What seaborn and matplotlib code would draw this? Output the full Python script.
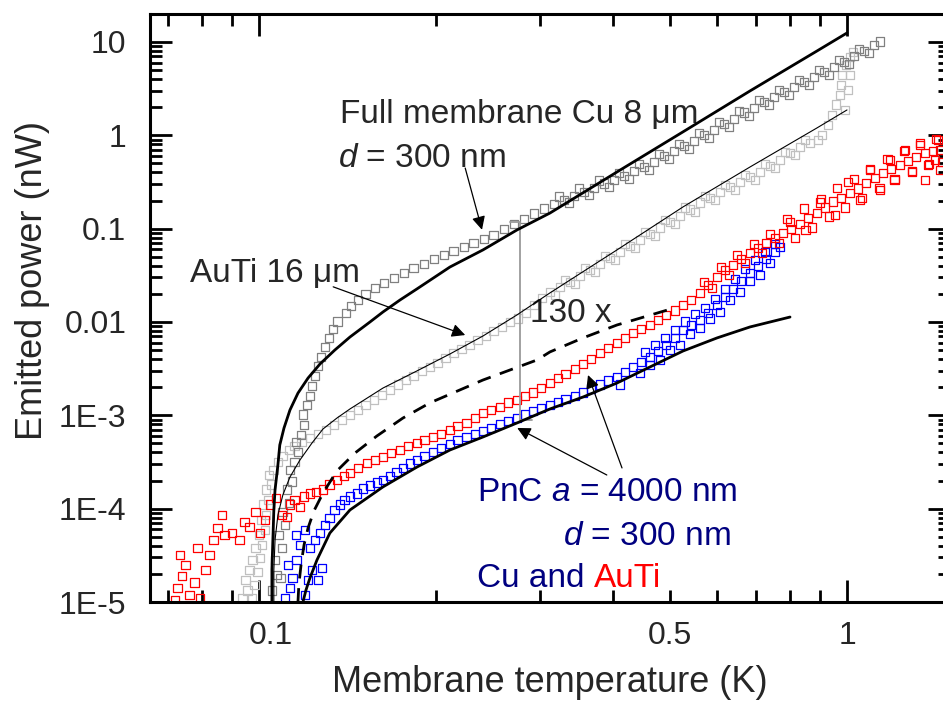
"""Emitted power versus membrane temperature for full membranes and PnC membranes."""

import matplotlib

matplotlib.use("Agg")

import matplotlib.pyplot as plt
import matplotlib.transforms as mtransforms
import seaborn as sns

cu_full = [
    (0.1052, 1.34e-5), (0.1073, 1.95e-5), (0.1089, 1.81e-5), (0.1065, 2.82e-5), (0.1094, 3.79e-5),
    (0.1081, 5.23e-5), (0.1107, 6.69e-5), (0.1098, 9.21e-5), (0.1125, 1.15e-4), (0.1116, 1.59e-4),
    (0.1138, 1.94e-4), (0.1129, 2.60e-4), (0.1151, 3.17e-4), (0.1165, 4.04e-4), (0.1156, 5.18e-4),
    (0.1179, 6.15e-4), (0.1193, 7.88e-4), (0.1188, 1.03e-3), (0.1207, 1.29e-3), (0.1221, 1.61e-3),
    (0.1231, 2.06e-3), (0.1245, 2.64e-3), (0.1260, 3.38e-3), (0.1275, 4.22e-3), (0.1295, 5.40e-3),
    (0.1315, 6.73e-3), (0.1336, 8.41e-3), (0.1362, 1.02e-2), (0.1406, 1.25e-2), (0.1434, 1.48e-2),
    (0.1474, 1.72e-2), (0.1520, 1.99e-2), (0.1575, 2.31e-2), (0.1632, 2.62e-2), (0.1697, 2.96e-2),
    (0.1764, 3.35e-2), (0.1834, 3.79e-2), (0.1908, 4.19e-2), (0.1984, 4.74e-2), (0.2063, 5.23e-2),
    (0.2145, 5.77e-2), (0.2231, 6.36e-2), (0.2320, 7.03e-2), (0.2413, 7.75e-2), (0.2509, 8.55e-2),
    (0.2610, 9.92e-2), (0.2714, 0.112), (0.2823, 0.127), (0.2936, 0.144), (0.3053, 0.163),
    (0.3175, 0.184), (0.3301, 0.203), (0.3433, 0.224), (0.3570, 0.247), (0.3712, 0.273),
    (0.3860, 0.302), (0.4014, 0.332), (0.4175, 0.366), (0.4342, 0.415), (0.4515, 0.458),
    (0.4695, 0.518), (0.4883, 0.600), (0.5078, 0.679), (0.5281, 0.769), (0.5492, 0.870),
    (0.5711, 1.01), (0.5940, 1.14), (0.6177, 1.32), (0.6424, 1.50), (0.6680, 1.74),
    (0.6947, 1.96), (0.7225, 2.28), (0.7513, 2.57), (0.7813, 2.91), (0.8125, 3.30),
    (0.8450, 3.73), (0.8788, 4.22), (0.9139, 4.78), (0.9504, 5.40), (0.9883, 6.10),
    (1.028, 7.08), (1.069, 8.01), (1.111, 9.28), (1.138, 10.2),
    # upper and lower edge of the dense band
    (0.3237, 0.219), (0.3367, 0.189), (0.3501, 0.267), (0.3641, 0.230), (0.3786, 0.325),
    (0.3938, 0.280), (0.4095, 0.395), (0.4259, 0.340), (0.4429, 0.493), (0.4606, 0.425),
    (0.4789, 0.631), (0.4981, 0.558), (0.5180, 0.808), (0.5386, 0.714), (0.5601, 1.06),
    (0.5825, 0.936), (0.6057, 1.39), (0.6299, 1.23), (0.6551, 1.82), (0.6813, 1.61),
    (0.7085, 2.39), (0.7368, 2.12), (0.7663, 3.06), (0.7969, 2.70), (0.8288, 3.92),
    (0.8618, 3.46), (0.8962, 5.01), (0.9320, 4.43), (0.9692, 6.41), (1.008, 5.81),
    (1.048, 8.41), (1.090, 7.62),
]

auti_full = [
    (0.0939, 1.10e-5), (0.0957, 1.34e-5), (0.0973, 1.10e-5), (0.0950, 1.72e-5), (0.0984, 1.52e-5),
    (0.0965, 2.20e-5), (0.0995, 2.10e-5), (0.0976, 2.82e-5), (0.1004, 2.96e-5), (0.0988, 3.79e-5),
    (0.1012, 4.08e-5), (0.1000, 5.23e-5), (0.1024, 5.91e-5), (0.1008, 7.56e-5), (0.1028, 8.55e-5),
    (0.1016, 1.10e-4), (0.1036, 1.24e-4), (0.1028, 1.59e-4), (0.1048, 1.80e-4), (0.1040, 2.30e-4),
    (0.1060, 2.60e-4), (0.1077, 3.17e-4), (0.1098, 3.66e-4), (0.1125, 4.25e-4), (0.1151, 4.69e-4),
    (0.1183, 5.18e-4), (0.1221, 5.72e-4), (0.1260, 6.31e-4), (0.1300, 6.97e-4), (0.1341, 7.88e-4),
    (0.1384, 8.91e-4), (0.1428, 1.01e-3), (0.1474, 1.14e-3), (0.1520, 1.29e-3), (0.1569, 1.46e-3),
    (0.1619, 1.65e-3), (0.1670, 1.87e-3), (0.1723, 2.12e-3), (0.1778, 2.39e-3), (0.1834, 2.64e-3),
    (0.1893, 2.98e-3), (0.1953, 3.30e-3), (0.2015, 3.64e-3), (0.2079, 4.12e-3), (0.2145, 4.66e-3),
    (0.2213, 5.14e-3), (0.2284, 5.67e-3), (0.2356, 6.41e-3), (0.2432, 7.08e-3), (0.2509, 8.01e-3),
    (0.2590, 8.83e-3), (0.2672, 9.99e-3), (0.2757, 1.10e-2), (0.2845, 1.25e-2), (0.2936, 1.52e-2),
    (0.3029, 1.81e-2), (0.3125, 2.10e-2), (0.3250, 2.37e-2), (0.3380, 2.68e-2), (0.3515, 3.11e-2),
    (0.3655, 3.61e-2), (0.3801, 4.19e-2), (0.3953, 4.85e-2), (0.4111, 5.63e-2), (0.4276, 6.52e-2),
    (0.4446, 7.56e-2), (0.4624, 8.77e-2), (0.4808, 0.102), (0.5000, 0.118), (0.5200, 0.137),
    (0.5407, 0.159), (0.5623, 0.189), (0.5848, 0.213), (0.6081, 0.247), (0.6324, 0.280),
    (0.6577, 0.317), (0.6840, 0.358), (0.7113, 0.405), (0.7397, 0.469), (0.7693, 0.544),
    (0.8000, 0.647), (0.8320, 0.751), (0.8652, 0.829), (0.8929, 0.891), (0.9069, 1.01),
    (0.9286, 1.29), (0.9430, 1.65), (0.9578, 2.12), (0.9730, 2.70), (0.9768, 3.46),
    (0.9806, 4.43), (0.9961, 5.67), (1.012, 6.90), (1.024, 7.81), (0.9922, 1.87),
    (1.004, 3.06), (1.012, 4.43),
    # edges of the band
    (0.3187, 1.95e-2), (0.3314, 2.82e-2), (0.3447, 2.55e-2), (0.3585, 3.79e-2), (0.3727, 3.44e-2),
    (0.3876, 5.10e-2), (0.4031, 4.62e-2), (0.4192, 6.85e-2), (0.4361, 6.21e-2), (0.4534, 9.21e-2),
    (0.4716, 8.34e-2), (0.4903, 0.124), (0.5099, 0.112), (0.5303, 0.167), (0.5514, 0.151),
    (0.5734, 0.224), (0.5964, 0.203), (0.6201, 0.294), (0.6449, 0.260), (0.6707, 0.376),
    (0.6975, 0.332), (0.7254, 0.493), (0.7543, 0.447), (0.7845, 0.663), (0.8158, 0.615),
    (0.8485, 0.891),
]

cu_pnc = [
    (0.1107, 1.10e-5), (0.1129, 1.41e-5), (0.1142, 1.81e-5), (0.1120, 2.49e-5), (0.1160, 2.82e-5),
    (0.1198, 1.19e-5), (0.1212, 1.72e-5), (0.1231, 2.20e-5), (0.1260, 1.72e-5), (0.1280, 2.31e-5),
    (0.1174, 4.08e-5), (0.1156, 5.23e-5), (0.1198, 5.91e-5), (0.1221, 3.79e-5), (0.1245, 4.62e-5),
    (0.1270, 5.49e-5), (0.1295, 6.69e-5), (0.1320, 7.94e-5), (0.1346, 9.68e-5), (0.1373, 1.10e-4),
    (0.1400, 1.24e-4), (0.1428, 1.34e-4), (0.1468, 1.44e-4), (0.1503, 1.63e-4), (0.1544, 1.76e-4),
    (0.1587, 1.89e-4), (0.1625, 2.03e-4), (0.1670, 2.24e-4), (0.1716, 2.47e-4), (0.1757, 2.73e-4),
    (0.1806, 3.02e-4), (0.1856, 3.32e-4), (0.1915, 3.66e-4), (0.1976, 4.04e-4), (0.2039, 4.47e-4),
    (0.2112, 4.93e-4), (0.2179, 5.44e-4), (0.2257, 5.86e-4), (0.2330, 6.31e-4), (0.2404, 6.79e-4),
    (0.2480, 7.32e-4), (0.2570, 8.08e-4), (0.2651, 8.70e-4), (0.2746, 9.36e-4), (0.2834, 1.03e-3),
    (0.2924, 1.11e-3), (0.3017, 1.20e-3), (0.3125, 1.29e-3), (0.3224, 1.39e-3), (0.3326, 1.50e-3),
    (0.3446, 1.61e-3), (0.3556, 1.74e-3), (0.3669, 1.92e-3), (0.3801, 2.12e-3), (0.3922, 2.34e-3),
    (0.4063, 2.57e-3), (0.4191, 2.91e-3), (0.4324, 3.30e-3), (0.4462, 3.73e-3), (0.4624, 4.22e-3),
    (0.4770, 4.90e-3), (0.4921, 5.67e-3), (0.5098, 6.73e-3), (0.5262, 8.20e-3), (0.5431, 9.28e-3),
    (0.5623, 1.05e-2), (0.5801, 1.25e-2), (0.6011, 1.52e-2), (0.6202, 1.85e-2), (0.6400, 2.26e-2),
    (0.6603, 2.75e-2), (0.6840, 3.35e-2), (0.7057, 3.98e-2), (0.7281, 4.74e-2), (0.7542, 5.63e-2),
    (0.7693, 6.36e-2), (0.4111, 2.12e-3), (0.4446, 2.84e-3), (0.4808, 3.92e-3), (0.5200, 5.67e-3),
    (0.5623, 8.62e-3), (0.6081, 1.28e-2), (0.6577, 2.10e-2), (0.7113, 3.19e-2),
    # thick part of the band
    (0.4534, 4.78e-3), (0.4716, 5.67e-3), (0.4903, 6.73e-3), (0.5099, 8.20e-3), (0.5303, 1.02e-2),
    (0.5514, 1.22e-2), (0.5734, 1.41e-2), (0.5964, 1.76e-2), (0.6201, 2.26e-2), (0.6449, 2.89e-2),
    (0.6707, 3.70e-2), (0.6975, 4.62e-2), (0.7254, 5.63e-2), (0.7543, 6.85e-2), (0.4624, 3.46e-3),
    (0.5000, 5.01e-3), (0.5407, 7.43e-3), (0.5848, 1.08e-2), (0.6324, 1.72e-2), (0.6840, 2.75e-2),
    (0.7397, 4.29e-2),
]

auti_pnc = [
    (0.0720, 1.05e-5), (0.0728, 1.41e-5), (0.0740, 1.90e-5), (0.0751, 2.49e-5), (0.0734, 3.19e-5),
    (0.0763, 1.19e-5), (0.0778, 1.63e-5), (0.0794, 1.10e-5), (0.0810, 2.20e-5), (0.0787, 3.79e-5),
    (0.0825, 3.19e-5), (0.0838, 4.62e-5), (0.0851, 6.21e-5), (0.0875, 5.23e-5), (0.0865, 8.55e-5),
    (0.0900, 5.49e-5), (0.0928, 4.62e-5), (0.0946, 7.20e-5), (0.0965, 6.36e-5), (0.0988, 9.21e-5),
    (0.1004, 5.49e-5), (0.1024, 7.56e-5), (0.1044, 1.10e-4), (0.1069, 1.30e-4), (0.1094, 8.55e-5),
    (0.1116, 8.14e-5), (0.1129, 1.10e-4), (0.1151, 1.24e-4), (0.1174, 1.04e-4), (0.1193, 1.34e-4),
    (0.1221, 1.44e-4), (0.1250, 1.51e-4), (0.1285, 1.59e-4), (0.1320, 1.80e-4), (0.1357, 2.03e-4),
    (0.1395, 2.24e-4), (0.1428, 2.41e-4), (0.1474, 2.73e-4), (0.1526, 3.09e-4), (0.1575, 3.32e-4),
    (0.1625, 3.58e-4), (0.1677, 3.95e-4), (0.1737, 4.25e-4), (0.1792, 4.69e-4), (0.1856, 5.05e-4),
    (0.1915, 5.44e-4), (0.1976, 5.86e-4), (0.2039, 6.31e-4), (0.2112, 6.97e-4), (0.2179, 7.69e-4),
    (0.2257, 8.29e-4), (0.2330, 9.36e-4), (0.2404, 1.06e-3), (0.2480, 1.14e-3), (0.2570, 1.23e-3),
    (0.2651, 1.36e-3), (0.2746, 1.46e-3), (0.2834, 1.61e-3), (0.2924, 1.74e-3), (0.3017, 1.96e-3),
    (0.3125, 2.22e-3), (0.3224, 2.51e-3), (0.3326, 2.77e-3), (0.3446, 3.14e-3), (0.3556, 3.55e-3),
    (0.3669, 4.02e-3), (0.3801, 4.66e-3), (0.3922, 5.26e-3), (0.4063, 5.96e-3), (0.4191, 6.73e-3),
    (0.4324, 7.62e-3), (0.4462, 8.41e-3), (0.4624, 9.28e-3), (0.4770, 1.05e-2), (0.4921, 1.19e-2),
    (0.5098, 1.34e-2), (0.5262, 1.52e-2), (0.5431, 1.72e-2), (0.5623, 2.04e-2), (0.5801, 2.49e-2),
    (0.6011, 3.04e-2), (0.6202, 3.61e-2), (0.6400, 4.08e-2), (0.6603, 4.74e-2), (0.6840, 5.49e-2),
    (0.7057, 6.21e-2), (0.7281, 7.03e-2), (0.7542, 7.94e-2), (0.7783, 8.99e-2), (0.8031, 9.92e-2),
    (0.8320, 0.112), (0.8584, 0.130), (0.8893, 0.147), (0.9175, 0.167), (0.9466, 0.194),
    (0.9767, 0.213), (1.012, 0.241), (1.044, 0.267), (1.077, 0.309), (1.116, 0.349),
    (1.151, 0.395), (1.188, 0.436), (1.231, 0.481), (1.270, 0.531), (1.310, 0.586),
    (1.357, 0.647), (1.400, 0.679), (1.439, 0.697), (0.8000, 0.118), (0.8487, 9.68e-2),
    (0.8997, 0.189), (0.9540, 0.140), (1.004, 0.317), (1.052, 0.203), (1.094, 0.425),
    (1.138, 0.260), (1.183, 0.544), (1.204, 0.332), (1.255, 0.697), (1.290, 0.405),
    (1.331, 0.789), (1.373, 0.481), (1.411, 0.544), (1.439, 0.425), (1.428, 0.891),
    (1.357, 0.332),
    # noisy upper part of the band
    (0.5712, 2.68e-2), (0.5894, 2.31e-2), (0.6105, 3.89e-2), (0.6299, 3.19e-2), (0.6499, 5.23e-2),
    (0.6707, 4.29e-2), (0.6948, 6.85e-2), (0.7169, 5.49e-2), (0.7397, 8.77e-2), (0.7663, 7.03e-2),
    (0.7906, 0.127), (0.8158, 7.94e-2), (0.8451, 0.163), (0.8720, 0.102), (0.9032, 0.208),
    (0.9320, 0.134), (0.9615, 0.273), (0.9922, 0.167), (1.028, 0.340), (1.060, 0.213),
    (1.094, 0.436), (1.134, 0.273), (1.170, 0.558), (1.206, 0.340), (1.250, 0.679),
    (1.290, 0.415), (1.331, 0.829), (1.379, 0.493), (1.417, 0.913), (1.450, 0.518),
]

# Model curves
fit_cu_full_T = [0.1052, 0.1052, 0.1056, 0.1060, 0.1065, 0.1077, 0.1085, 0.1103, 0.1129, 0.1165,
                 0.1212, 0.1270, 0.1346, 0.1428, 0.1544, 0.1625, 0.1737, 0.1856, 0.2112, 0.2404,
                 0.2746, 0.3125, 0.4063, 0.5262, 0.6840, 0.889, 1.0]
fit_cu_full_P = [1.0e-5, 2.2e-5, 4.62e-5, 9.68e-5, 1.59e-4, 2.94e-4, 4.81e-4, 7.31e-4, 1.14e-3, 1.73e-3,
                 2.51e-3, 3.55e-3, 5.01e-3, 6.90e-3, 9.99e-3, 1.28e-2, 1.72e-2, 2.26e-2, 3.88e-2, 5.92e-2,
                 9.68e-2, 0.147, 0.405, 1.09, 2.99, 8.01, 12.5]

fit_auti_full_T = [0.1060, 0.1060, 0.1065, 0.1077, 0.1098, 0.1129, 0.1174, 0.1231, 0.1285, 0.1357,
                   0.1428, 0.1625, 0.1856, 0.2112, 0.2404, 0.2746, 0.3125, 0.4063, 0.5262, 0.6840,
                   0.889, 1.0]
fit_auti_full_P = [1.0e-5, 2.2e-5, 4.62e-5, 8.55e-5, 1.40e-4, 2.18e-4, 3.32e-4, 5.06e-4, 7.14e-4, 9.35e-4,
                   1.17e-3, 1.96e-3, 2.99e-3, 4.54e-3, 7.08e-3, 1.19e-2, 2.05e-2, 5.92e-2, 0.171, 0.458,
                   1.20, 1.87]

fit_auti_pnc_T = [0.1165, 0.1169, 0.1179, 0.1193, 0.1212, 0.1240, 0.1285, 0.1357, 0.1456, 0.1587,
                  0.1757, 0.1953, 0.2196, 0.2404, 0.2672, 0.2971, 0.3125, 0.3556, 0.4063, 0.4943]
fit_auti_pnc_P = [1.0e-5, 1.52e-5, 2.49e-5, 4.08e-5, 6.21e-5, 9.44e-5, 1.47e-4, 2.54e-4, 3.94e-4, 6.01e-4,
                  9.35e-4, 1.36e-3, 1.87e-3, 2.39e-3, 3.06e-3, 3.92e-3, 4.78e-3, 6.75e-3, 9.29e-3, 1.34e-2]

fit_cu_pnc_T = [0.1188, 0.1202, 0.1221, 0.1255, 0.1320, 0.1428, 0.1625, 0.1856, 0.2112, 0.2404,
                0.2746, 0.3125, 0.3556, 0.4063, 0.4624, 0.5262, 0.6011, 0.6840, 0.8000]
fit_cu_pnc_P = [1.0e-5, 1.34e-5, 1.81e-5, 2.82e-5, 5.48e-5, 9.68e-5, 1.71e-4, 2.79e-4, 4.25e-4, 5.86e-4,
                8.28e-4, 1.17e-3, 1.57e-3, 2.22e-3, 3.30e-3, 4.89e-3, 6.75e-3, 8.85e-3, 1.13e-2]

# 130x bracket between full membrane and PnC
ratio_T = [0.2672, 0.2779, 0.2779, 0.2912]
ratio_P = [0.118, 0.118, 8.91e-4, 8.91e-4]

x_major = [0.1, 1]
x_major_labels = ["0.1", "1"]
x_minor = [0.07, 0.08, 0.09, 0.2, 0.3, 0.4, 0.5, 0.6, 0.7, 0.8, 0.9]
x_minor_labels = ["", "", "", "", "", "", "0.5", "", "", "", ""]
y_major = [1e-5, 1e-4, 1e-3, 1e-2, 1e-1, 1, 10]
y_major_labels = ["1E-5", "1E-4", "1E-3", "0.01", "0.1", "1", "10"]

DARK_GREY = "#808080"
LIGHT_GREY = "#c0c0c0"
BLUE = "#0000ff"
RED = "#ff0000"
NAVY = "#000080"


def draw_squares(ax, points, colour):
    temps = [p[0] for p in points]
    powers = [p[1] for p in points]
    sns.scatterplot(x=temps, y=powers, marker="s", s=40, color=colour, facecolors="none",
                    edgecolor=colour, linewidth=0.9, ax=ax, zorder=2)


def draw_curve(ax, temps, powers, width, style="-"):
    sns.lineplot(x=temps, y=powers, sort=False, estimator=None, color="black",
                 linewidth=width, linestyle=style, ax=ax, zorder=4)


def main():
    sns.set_style("ticks")
    plt.rcParams["font.family"] = ["Liberation Sans", "DejaVu Sans"]
    plt.rcParams["mathtext.fontset"] = "custom"
    plt.rcParams["mathtext.rm"] = "Liberation Sans"
    plt.rcParams["mathtext.it"] = "Liberation Sans:italic"

    fig = plt.figure(figsize=(9.43, 7.07), dpi=100)
    ax = fig.add_axes([150 / 943, 105 / 707, 800 / 943, 588 / 707])
    ax.set_xscale("log")
    ax.set_yscale("log")

    draw_squares(ax, auti_full, LIGHT_GREY)
    draw_squares(ax, cu_full, DARK_GREY)
    draw_squares(ax, cu_pnc, BLUE)
    draw_squares(ax, auti_pnc, RED)

    draw_curve(ax, fit_cu_full_T, fit_cu_full_P, 2.0)
    draw_curve(ax, fit_auti_full_T, fit_auti_full_P, 0.8)
    draw_curve(ax, fit_auti_pnc_T, fit_auti_pnc_P, 2.0, (0, (5, 3.5)))
    draw_curve(ax, fit_cu_pnc_T, fit_cu_pnc_P, 2.0)
    ax.plot(ratio_T, ratio_P, color="#9a9a9a", linewidth=1.3, zorder=3)

    ax.set_xlim(0.06527, 1.4967)
    ax.set_ylim(1e-5, 19.95)

    ax.set_xticks(x_major, x_major_labels)
    ax.set_xticks(x_minor, x_minor_labels, minor=True)
    ax.set_yticks(y_major, y_major_labels)
    ax.set_yticks([m * 10.0 ** e for e in range(-5, 1) for m in range(2, 10)], minor=True)
    ax.tick_params(which="both", direction="in", top=True, right=True, width=2.0,
                   labelsize=23, color="black")
    ax.tick_params(which="major", length=16)
    ax.tick_params(which="minor", length=8.5)
    ax.tick_params(axis="x", which="both", pad=14)
    ax.tick_params(axis="y", which="both", pad=17)
    for spine in ax.spines.values():
        spine.set_linewidth(2.2)
        spine.set_color("black")
    ax.set_xlabel("")
    ax.set_ylabel("")

    # the "0.1" label sits a little right of its tick in the original
    shift = mtransforms.ScaledTranslation(0.12, 0, fig.dpi_scale_trans)
    first_label = ax.get_xticklabels()[0]
    first_label.set_transform(first_label.get_transform() + shift)

    fig.text(550 / 943, (707 - 683) / 707, "Membrane temperature (K)", ha="center", va="center",
             fontsize=26)
    fig.text(33 / 943, (707 - 280) / 707, "Emitted power (nW)", ha="center", va="center",
             rotation=90, fontsize=26)

    # annotations, positions in axes fraction
    ax.text(0.2375, 0.8146, "Full membrane Cu 8 μm", transform=ax.transAxes, fontsize=24,
            va="baseline")
    ax.text(0.235, 0.7398, "$d$ = 300 nm", transform=ax.transAxes, fontsize=24, va="baseline")
    ax.text(0.05, 0.5442, "AuTi 16 μm", transform=ax.transAxes, fontsize=24, va="baseline")
    ax.text(0.475, 0.476, "130 x", transform=ax.transAxes, fontsize=24, va="baseline")
    ax.text(0.409, 0.1718, "PnC $a$ = 4000 nm", transform=ax.transAxes, fontsize=24,
            va="baseline", color=NAVY)
    ax.text(0.516, 0.097, "$d$ = 300 nm", transform=ax.transAxes, fontsize=24,
            va="baseline", color=NAVY)
    cu_and = ax.text(0.409, 0.0255, "Cu and", transform=ax.transAxes, fontsize=24,
                     va="baseline", color=NAVY)
    ax.annotate("AuTi", xy=(1, 0), xycoords=cu_and, xytext=(7, 0), textcoords="offset points",
                fontsize=24, va="bottom", ha="left", color=RED)

    arrows = [
        ((0.394, 0.738), (0.415, 0.633)),
        ((0.229, 0.536), (0.394, 0.454)),
        ((0.590, 0.228), (0.5475, 0.386)),
        ((0.571, 0.216), (0.459, 0.296)),
    ]
    for start, tip in arrows:
        ax.annotate("", xy=tip, xytext=start, xycoords="axes fraction",
                    arrowprops=dict(arrowstyle="-|>", color="black", lw=0.9,
                                    mutation_scale=20, shrinkA=0, shrinkB=0), zorder=5)

    fig.savefig("out.png", dpi=100)
    plt.close(fig)


if __name__ == "__main__":
    main()
